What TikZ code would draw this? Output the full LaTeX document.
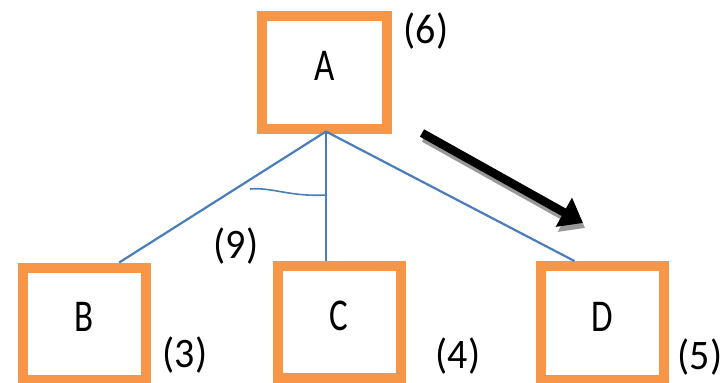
\documentclass[tikz,border=0pt]{standalone}
\usepackage{fontspec}
\setmainfont{Carlito}
\usetikzlibrary{arrows.meta,calc}
\definecolor{boxorange}{HTML}{F79646}
\definecolor{linkblue}{HTML}{4A7EBB}
\newcommand\tx[1]{\scalebox{1}[1.3]{#1}}
\newcommand\lb[1]{\scalebox{1}[1.05]{#1}}
\begin{document}
\begin{tikzpicture}[x=1pt,y=-1pt,
  goalbox/.style={draw=boxorange,line width=10pt,fill=white,rectangle,outer sep=5pt,
     minimum width=123pt,minimum height=112pt,inner sep=0pt,
     font=\fontsize{35}{40}\selectfont,text height=29pt,text depth=13pt},
  cost/.style={font=\fontsize{40}{46}\selectfont,inner sep=0pt},
  link/.style={draw=linkblue,line width=2.2pt},
  bigarrow/.style={line width=8.5pt,-{Triangle[length=22pt,width=32pt]}}]
\useasboundingbox (0,0) rectangle (726,383);
\node[goalbox,minimum width=125pt,minimum height=113pt] (A) at (324.5,72) {\tx{A}};
\node[goalbox] (B) at (84,323.5) {\tx{B}};
\node[goalbox] (C) at (339,322) {\tx{C}};
\node[goalbox,minimum height=114pt] (D) at (602,323) {\tx{D}};
\coordinate (apex) at ($(A.south)+(1.5,-2)$);
\draw[link] (apex) -- (B.60);
\draw[link] (apex) -- (apex |- C.north);
\draw[link] (apex) -- (D.114);
\coordinate (andL) at (250,189);
\coordinate (andR) at (apex |- 0,195);
\draw[linkblue,line width=1.6pt] (andL) .. controls (272,187) and (290,197) .. (andR);
\node[cost] (c6) at (426,31) {\lb{(6)}};
\node[cost] (c9) at (236,246) {\lb{(9)}};
\node[cost] (c3) at (185,355) {\lb{(3)}};
\node[cost] (c4) at (458,356) {\lb{(4)}};
\node[cost] (c5) at (700,357) {\lb{(5)}};
\coordinate (arrS) at (422,133);
\coordinate (arrE) at (583,223);
\draw[bigarrow,black!40] ($(arrS)+(2,5)$) -- ($(arrE)+(2,5)$);
\draw[bigarrow,black] (arrS) -- (arrE);
\end{tikzpicture}
\end{document}
